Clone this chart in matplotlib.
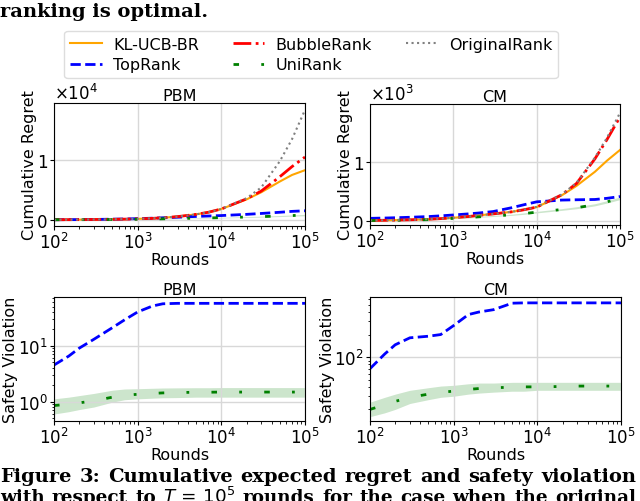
import matplotlib
matplotlib.use("Agg")
from matplotlib import pyplot as plt
from matplotlib.ticker import ScalarFormatter

rounds = [100, 150, 200, 300, 500, 700, 1000, 1500, 2000, 3000, 5000, 7000,
          10000, 20000, 30000, 50000, 70000, 100000]

# cumulative regret, PBM
pbm_klucb = [0, 10, 20, 40, 70, 100, 150, 230, 330, 520, 900, 1250, 1800, 3400, 4600, 6400, 7500, 8300]
pbm_bubble = [0, 10, 20, 40, 70, 100, 150, 230, 330, 520, 900, 1250, 1800, 3500, 4800, 7200, 8900, 10500]
pbm_original = [0, 10, 20, 40, 70, 100, 150, 230, 330, 520, 900, 1250, 1800, 3600, 5400, 9800, 13500, 18400]
pbm_top = [0, 15, 20, 50, 90, 130, 180, 260, 320, 420, 550, 620, 700, 900, 1050, 1250, 1400, 1500]
pbm_uni = [0, 5, 10, 20, 40, 60, 80, 120, 150, 200, 260, 300, 350, 450, 520, 620, 700, 780]
pbm_uni_lo = [0, 3, 6, 14, 30, 45, 60, 95, 120, 165, 215, 250, 290, 380, 440, 530, 600, 670]
pbm_uni_hi = [0, 7, 14, 26, 50, 75, 100, 145, 180, 235, 305, 350, 410, 520, 600, 710, 800, 890]

# cumulative regret, CM
cm_klucb = [5, 7, 10, 15, 25, 35, 50, 70, 90, 115, 150, 185, 230, 430, 590, 830, 1020, 1200]
cm_bubble = [5, 7, 10, 15, 25, 35, 50, 70, 90, 115, 150, 185, 230, 440, 630, 1050, 1380, 1760]
cm_original = [5, 7, 10, 15, 25, 35, 50, 70, 90, 115, 150, 185, 235, 445, 640, 1070, 1410, 1830]
cm_top = [40, 45, 50, 58, 70, 82, 97, 115, 130, 155, 220, 270, 320, 350, 355, 360, 380, 410]
cm_uni = [3, 5, 7, 10, 18, 25, 40, 52, 65, 80, 100, 120, 145, 190, 220, 270, 320, 380]
cm_uni_lo = [1, 3, 5, 7, 14, 20, 34, 45, 57, 71, 90, 108, 132, 175, 203, 252, 300, 358]
cm_uni_hi = [5, 7, 9, 13, 22, 30, 46, 59, 73, 89, 110, 132, 158, 205, 237, 288, 340, 402]

# safety violation, PBM
pbm_sv_top = [4.5, 6.5, 9, 13, 21, 29, 40, 51, 56, 57, 57, 57, 57, 57, 57, 57, 57, 57]
pbm_sv_uni = [0.85, 0.9, 0.95, 1.03, 1.2, 1.3, 1.35, 1.4, 1.43, 1.45, 1.47, 1.47, 1.48, 1.48, 1.48, 1.48, 1.48, 1.48]
pbm_sv_uni_lo = [0.6, 0.66, 0.72, 0.8, 0.98, 1.08, 1.12, 1.15, 1.17, 1.18, 1.2, 1.2, 1.2, 1.2, 1.2, 1.2, 1.2, 1.2]
pbm_sv_uni_hi = [1.12, 1.2, 1.28, 1.4, 1.6, 1.68, 1.7, 1.73, 1.75, 1.76, 1.77, 1.77, 1.78, 1.78, 1.78, 1.78, 1.78, 1.78]

# safety violation, CM
cm_sv_top = [70, 110, 146, 181, 190, 200, 264, 370, 400, 430, 525, 530, 530, 530, 530, 530, 530, 530]
cm_sv_uni = [20, 23, 25.6, 29, 32, 34, 35, 37, 38, 39, 39.5, 40, 40, 40.5, 41, 41, 41, 41]
cm_sv_uni_lo = [16, 18, 20, 24, 27, 29, 30, 32, 33, 34, 35, 35, 36, 36, 36, 36, 36, 36]
cm_sv_uni_hi = [25, 29, 32, 36, 39, 41, 42, 44, 45, 45, 46, 46, 46, 46, 46, 46, 46, 46]

caption_1 = ["Figure", "3:", "Cumulative", "expected", "regret", "and", "safety", "violation"]
caption_2 = ["with", "respect", "to", "$T\\,=\\,10^5$", "rounds", "for", "the", "case", "when",
             "the", "original"]

uni_style = (0, (2, 8, 1, 8))
serif = "DejaVu Serif"


def style_axes(ax, title, ylabel, label_x):
	ax.set_xscale("log")
	ax.set_xlim(1e2, 1e5)
	ax.set_title(title, fontsize=11.5, pad=2)
	ax.set_xlabel("Rounds", fontsize=11.5, labelpad=0)
	ax.set_ylabel(ylabel, fontsize=11.5)
	ax.yaxis.set_label_coords(label_x, 0.5)
	ax.grid(True, which="major", color="#d8d8d8", lw=1)
	ax.tick_params(labelsize=12, pad=1.5, length=3)
	ax.tick_params(which="minor", length=1.8)


def regret_panel(ax, title, klucb, bubble, original, top, uni, uni_lo, uni_hi, ylim):
	ax.fill_between(rounds, uni_lo, uni_hi, color="green", alpha=0.2, lw=0)
	ax.plot(rounds, klucb, color="orange", lw=1.5, label="KL-UCB-BR")
	ax.plot(rounds, top, color="blue", lw=2, ls="--", label="TopRank")
	ax.plot(rounds, bubble, color="red", lw=2, ls="-.", label="BubbleRank")
	ax.plot(rounds, uni, color="green", lw=2, ls=uni_style, label="UniRank")
	ax.plot(rounds, original, color="grey", lw=1.5, ls=":", label="OriginalRank")
	ax.set_ylim(*ylim)
	fmt = ScalarFormatter(useMathText=True)
	fmt.set_powerlimits((0, 0))
	ax.yaxis.set_major_formatter(fmt)
	style_axes(ax, title, "Cumulative Regret", -0.068)
	ax.yaxis.get_offset_text().set_fontsize(12)


def safety_panel(ax, title, top, uni, uni_lo, uni_hi, ylim, label_x):
	ax.fill_between(rounds, uni_lo, uni_hi, color="green", alpha=0.2, lw=0)
	ax.plot(rounds, top, color="blue", lw=2, ls="--")
	ax.plot(rounds, uni, color="green", lw=2, ls=uni_style)
	ax.set_yscale("log")
	ax.set_ylim(*ylim)
	style_axes(ax, title, "Safety Violation", label_x)


def justified_line(fig, words, y, x0, x1, size):
	# spreads the words of one caption line over the whole width, like the paper
	renderer = fig.canvas.get_renderer()
	texts = [fig.text(0, y, w, family=serif, weight="bold", fontsize=size, va="baseline", ha="left")
	         for w in words]
	widths = [t.get_window_extent(renderer).width for t in texts]
	total = (x1 - x0) * fig.bbox.width
	gap = max(3.0, (total - sum(widths)) / (len(words) - 1))
	pos = x0 * fig.bbox.width
	for t, w in zip(texts, widths):
		t.set_x(pos / fig.bbox.width)
		pos += w + gap


fig = plt.figure(figsize=(6.4, 5.02), dpi=100)

ax1 = fig.add_axes([54 / 640, 1 - 227 / 502, 251 / 640, 123 / 502])
ax2 = fig.add_axes([370 / 640, 1 - 226 / 502, 250 / 640, 121 / 502])
ax3 = fig.add_axes([54 / 640, 1 - 422 / 502, 251 / 640, 124 / 502])
ax4 = fig.add_axes([370 / 640, 1 - 422 / 502, 251 / 640, 124 / 502])

regret_panel(ax1, "PBM", pbm_klucb, pbm_bubble, pbm_original, pbm_top, pbm_uni,
             pbm_uni_lo, pbm_uni_hi, (-1050, 19550))
regret_panel(ax2, "CM", cm_klucb, cm_bubble, cm_original, cm_top, cm_uni,
             cm_uni_lo, cm_uni_hi, (-73, 1980))
safety_panel(ax3, "PBM", pbm_sv_top, pbm_sv_uni, pbm_sv_uni_lo, pbm_sv_uni_hi, (0.45, 74), -0.142)
safety_panel(ax4, "CM", cm_sv_top, cm_sv_uni, cm_sv_uni_lo, cm_sv_uni_hi, (14, 635), -0.14)

handles, labels = ax1.get_legend_handles_labels()
fig.legend(handles, labels, loc="upper center", bbox_to_anchor=(311 / 640, 1 - 24 / 502),
           ncol=3, fontsize=11.5, handlelength=2.0, handletextpad=0.7, columnspacing=2.1,
           labelspacing=0.35, borderpad=0.35, framealpha=1, edgecolor="#dddddd")

# surrounding paper text
fig.text(0.0, 1 - 17 / 502, "ranking is optimal.", family=serif, weight="bold",
         fontsize=14, va="baseline", ha="left")
justified_line(fig, caption_1, 1 - 482 / 502, 0.0, 636 / 640, 14)
justified_line(fig, caption_2, 1 - 503 / 502, 0.0, 636 / 640, 13.2)

fig.savefig("out.png", dpi=100)
